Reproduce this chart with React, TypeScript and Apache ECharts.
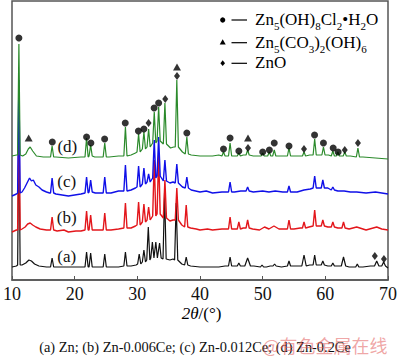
import React, { useEffect, useRef } from 'react';
import * as echarts from 'echarts';

// ---------- data (2θ in degrees, intensity in arbitrary units) ----------
const xTicks = [10, 20, 30, 40, 50, 60, 70];
const traceLabels = ['(a)', '(b)', '(c)', '(d)'];
const caption = '(a) Zn; (b) Zn-0.006Ce; (c) Zn-0.012Ce; (d) Zn-0.2Ce';
const legendNames = ['Zn5(OH)8Cl2•H2O', 'Zn5(CO3)2(OH)6', 'ZnO'];

// background points [2θ, I]
const bgA = [[10, 13], [10.7, 14], [11.6, 15], [12.2, 17], [12.7, 20], [13.1, 19], [13.6, 16], [14.3, 14], [15.5, 13], [17, 13], [20, 13], [23.3, 13], [25.6, 13], [27, 13], [29, 14], [29.8, 15], [35.2, 20], [35.7, 21], [37.1, 16], [38.5, 14], [40, 13], [43, 13], [44, 14], [45.5, 14], [48.6, 14], [50.6, 13], [51.2, 14], [53, 13], [55.3, 14], [57.5, 15], [60.4, 14], [62, 14], [63.8, 13], [66, 13], [67.2, 14], [70, 12]];
// peaks [2θ, foot, apex, halfWidth?]
const peaksA = [[11.1, 15, 150, 0.2], [16.4, 13, 22], [21.9, 13, 28], [22.55, 13, 27], [24.8, 13, 26], [28.1, 14, 28], [30.3, 16, 26], [31.05, 18, 30], [31.75, 20, 53], [32.4, 22, 38], [32.95, 22, 38], [33.55, 22, 37], [34.35, 21, 88], [36.2, 20, 77], [37.8, 15, 23], [44.8, 14, 23], [46.2, 14, 17], [47.6, 14, 22, 0.45], [49.9, 13, 15], [51.9, 14, 16], [54.2, 14, 19], [56.6, 14, 25, 0.35], [58.3, 15, 25], [59.6, 15, 19], [61.2, 14, 17], [62.9, 14, 23, 0.35], [65.1, 13, 16], [68.2, 14, 19, 0.35], [69.3, 14, 18, 0.3]];

const bgB = [[10, 48], [10.7, 50], [11.6, 51], [12.1, 53], [12.5, 56], [12.9, 57], [13.3, 55], [13.8, 53], [14.5, 51], [15.5, 50], [17.2, 49], [18.3, 50], [19, 48], [20.2, 49], [21, 49], [23.3, 50], [25.8, 50], [27, 51], [29, 52], [29.7, 54], [35.2, 59], [35.7, 60], [37.1, 55], [38.5, 52], [39.4, 51], [40, 50], [41.2, 51], [42, 50], [43.5, 51], [45.6, 51], [46.9, 52], [48.4, 51], [49.5, 50], [50.3, 53], [51, 51], [51.8, 54], [52.6, 51], [53.5, 51], [55, 51], [56, 52], [57.4, 53], [60.4, 53], [62, 52], [63.8, 51], [65, 53], [66.5, 50], [68.2, 53], [69, 51], [70, 50]];
const peaksB = [[11.1, 50, 170, 0.2], [16.4, 50, 63], [21.9, 50, 69], [22.55, 50, 65], [24.8, 50, 67], [28.1, 52, 77], [30.2, 55, 78], [31.05, 58, 76], [31.8, 60, 73], [32.7, 64, 120], [33.4, 66, 125], [34.4, 62, 100], [36.3, 60, 92], [37.8, 53, 75], [44.8, 51, 63], [46.2, 51, 58], [47.6, 52, 60], [54.2, 51, 60], [56.6, 52, 58], [58.3, 54, 70], [59.6, 54, 60], [61.2, 53, 58], [62.9, 52, 58]];

const bgC = [[10, 84], [10.7, 86], [11.6, 88], [12.0, 92], [12.4, 97], [12.8, 102], [13.1, 99], [13.4, 100], [13.8, 95], [14.3, 93], [14.8, 90], [15.5, 88], [16.0, 87], [17, 86], [18, 85], [19, 84], [20, 85], [21, 86], [23.3, 87], [25.8, 87], [27, 89], [29, 90], [29.7, 92], [35.2, 97], [35.7, 98], [37.2, 93], [38.6, 90], [40, 88], [41, 89], [42, 87], [43.5, 88], [45.5, 88], [46.5, 89], [48.5, 88], [50, 89], [51, 88], [52, 89], [53.2, 88], [55.5, 88], [56.6, 90], [57.6, 91], [60.4, 92], [62, 89], [63, 89], [64, 88], [65, 88], [66.5, 87], [68, 88], [69, 87], [70, 86]];
const peaksC = [[11.1, 87, 200, 0.2], [16.4, 87, 102], [21.9, 87, 103], [22.55, 88, 100], [24.8, 87, 103], [28.1, 89, 115], [30.2, 93, 114], [31.05, 96, 112], [31.8, 98, 106], [32.7, 102, 140], [33.4, 104, 143], [34.4, 99, 120], [36.3, 97, 116], [37.9, 92, 103], [44.8, 88, 98], [47.6, 89, 93], [54.2, 88, 94], [58.3, 92, 104], [59.6, 92, 100], [61.2, 90, 93]];

const bgD = [[10, 124], [10.7, 125], [11.7, 124], [12.2, 126], [12.6, 131], [12.9, 133], [13.3, 129], [13.9, 124], [15, 123], [16.0, 123], [17, 123], [19, 122], [21, 123], [23.2, 123], [25.5, 123], [27, 124], [29, 125], [29.7, 127], [35.3, 132], [35.8, 133], [37.2, 128], [38.6, 125], [40, 124], [42, 124], [43, 125], [45.5, 124], [46.9, 125], [48.5, 124], [52.8, 124], [55.3, 124], [57.5, 125], [60.5, 125], [64, 124], [66, 123], [68, 122], [70, 121]];
const peaksD = [[11.1, 125, 236, 0.2], [16.4, 123, 134], [21.9, 123, 142], [22.55, 124, 135], [24.8, 123, 137], [28.1, 124, 153], [30.2, 128, 146], [31.05, 131, 148], [31.8, 133, 151], [32.7, 137, 168], [33.4, 139, 173], [34.4, 136, 177], [36.3, 133, 200], [37.9, 126, 143], [43.75, 124, 128], [44.8, 124, 137], [46.2, 124, 127], [47.6, 125, 130], [50.0, 124, 127], [51.05, 124, 128], [51.85, 124, 130], [54.2, 124, 132], [56.6, 124, 128], [58.3, 125, 141], [59.7, 125, 133], [61.2, 124, 129], [62.0, 124, 128], [63.1, 124, 128], [65.2, 123, 132]];

// phase markers [2θ, I]
const markCl = [[11.1, 242], [16.43, 138], [21.9, 143], [22.59, 137], [24.78, 141], [28.07, 157], [30.17, 149], [31.05, 151], [32.68, 172], [33.4, 177], [37.9, 147], [43.75, 131], [44.8, 142], [46.2, 129], [50.0, 128], [51.07, 130], [51.85, 137], [54.2, 134], [58.28, 145], [59.7, 137], [61.25, 132], [62.04, 128]];
const markCO3 = [[12.66, 142], [36.33, 213], [47.66, 142]];
const markZnO = [[31.79, 157], [34.45, 181], [36.33, 204], [47.66, 132], [56.6, 131], [63.1, 130], [65.2, 137], [67.9, 24], [69.35, 21]];

function buildTrace(bg: number[][], peaks: number[][]) {
  const pts: number[][] = bg.map((p) => [p[0], p[1]]);
  peaks.forEach((p) => {
    const w = p[3] ?? 0.25;
    pts.push([p[0] - w, p[1]], [p[0], p[2]], [p[0] + w, p[1]]);
  });
  pts.sort((a, b) => a[0] - b[0]);
  return pts;
}

const SERIF = '"Liberation Serif", "DejaVu Serif", serif';

export default function App() {
  const ref = useRef<HTMLDivElement>(null);
  useEffect(() => {
    document.body.style.margin = '0';
    const chart = echarts.init(ref.current!, undefined, { renderer: 'svg' });
    const traces = [
      { data: buildTrace(bgA, peaksA), color: '#111111', w: 1.2 },
      { data: buildTrace(bgB, peaksB), color: '#e3161b', w: 1.4 },
      { data: buildTrace(bgC, peaksC), color: '#1010e8', w: 1.4 },
      { data: buildTrace(bgD, peaksD), color: '#2b8a2b', w: 1.2 },
    ];
    const sub = { fontSize: 11, fontFamily: SERIF, color: '#111', lineHeight: 12, padding: [9, 0, 0, 0], verticalAlign: 'top' };
    const main = { fontSize: 17, fontFamily: SERIF, color: '#111', lineHeight: 20, verticalAlign: 'top' };
    const rich = { m: main, s: sub };
    const labelPos = [[66.7, 256], [66.7, 217], [66.7, 181.7], [67.3, 146]];
    chart.setOption({
      animation: false,
      grid: { left: 8, right: 9, top: 1, bottom: 80, show: true, borderColor: '#555', borderWidth: 1.5, backgroundColor: 'transparent' },
      xAxis: {
        type: 'value', min: xTicks[0], max: xTicks[xTicks.length - 1], interval: 10,
        axisLine: { show: true, lineStyle: { color: '#555', width: 1.5 } },
        axisTick: { show: true, inside: true, length: 4, lineStyle: { color: '#555' } },
        axisLabel: { fontSize: 18, fontFamily: SERIF, color: '#111', margin: 5 },
        splitLine: { show: false },
      },
      yAxis: {
        type: 'value', min: 0, max: 279,
        axisLine: { show: false }, axisTick: { show: false }, axisLabel: { show: false }, splitLine: { show: false },
      },
      series: [
        ...traces.map((t) => ({
          type: 'line', data: t.data, showSymbol: false, silent: true,
          lineStyle: { color: t.color, width: t.w }, itemStyle: { color: t.color },
        })),
        { type: 'scatter', name: legendNames[0], data: markCl, symbol: 'circle', symbolSize: 7, itemStyle: { color: '#000' }, z: 5 },
        { type: 'scatter', name: legendNames[1], data: markCO3, symbol: 'triangle', symbolSize: [8, 7], itemStyle: { color: '#000' }, z: 5 },
        { type: 'scatter', name: legendNames[2], data: markZnO, symbol: 'diamond', symbolSize: [6, 8], itemStyle: { color: '#000' }, z: 5 },
      ],
      graphic: [
        // legend
        { type: 'circle', shape: { cx: 222.7, cy: 20, r: 2.6 }, style: { fill: '#000' } },
        { type: 'line', shape: { x1: 231.5, y1: 20, x2: 247, y2: 20 }, style: { stroke: '#000', lineWidth: 1.2 } },
        { type: 'text', x: 255, y: 11.3, style: { text: '{m|Zn}{s|5}{m|(OH)}{s|8}{m|Cl}{s|2}{m|•H}{s|2}{m|O}', rich, verticalAlign: 'top' } },
        { type: 'polygon', shape: { points: [[222.7, 39.3], [225.7, 44.5], [219.7, 44.5]] }, style: { fill: '#000' } },
        { type: 'line', shape: { x1: 231.5, y1: 42.7, x2: 247, y2: 42.7 }, style: { stroke: '#000', lineWidth: 1.2 } },
        { type: 'text', x: 255, y: 34, style: { text: '{m|Zn}{s|5}{m|(CO}{s|3}{m|)}{s|2}{m|(OH)}{s|6}', rich, verticalAlign: 'top' } },
        { type: 'polygon', shape: { points: [[222.7, 60.3], [225, 63.2], [222.7, 66.1], [220.4, 63.2]] }, style: { fill: '#000' } },
        { type: 'line', shape: { x1: 231.5, y1: 63.3, x2: 247, y2: 63.3 }, style: { stroke: '#000', lineWidth: 1.2 } },
        { type: 'text', x: 255, y: 54, style: { text: '{m|ZnO}', rich, verticalAlign: 'top' } },
        // trace labels
        ...traceLabels.map((t, i) => ({
          type: 'text', x: labelPos[i][0], y: labelPos[i][1],
          style: { text: t, fontSize: 17, fontFamily: SERIF, fill: '#111', align: 'center', verticalAlign: 'middle' },
        })),
        // axis title
        { type: 'text', x: 201.5, y: 313, style: { text: '{i|2θ}{n|/(°)}', align: 'center', verticalAlign: 'middle', rich: { i: { fontSize: 17, fontFamily: SERIF, fontStyle: 'italic', color: '#111' }, n: { fontSize: 17, fontFamily: SERIF, color: '#111' } } } },
        // caption
        { type: 'text', x: 195, y: 346.5, style: { text: caption, fontSize: 14.4, fontFamily: SERIF, fill: '#111', align: 'center', verticalAlign: 'middle' } },
        // watermark
        { type: 'text', x: 325, y: 345, z: 10, style: { text: '@有色金属在线', fontSize: 18, fontFamily: 'Noto Sans CJK SC', fill: 'rgba(226,90,90,0.55)', align: 'center', verticalAlign: 'middle' } },
      ],
    });
    return () => chart.dispose();
  }, []);
  return <div ref={ref} style={{ width: 400, height: 360 }} />;
}
